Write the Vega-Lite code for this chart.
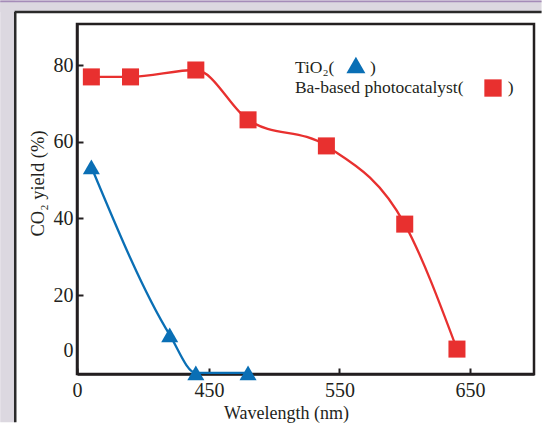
{
  "$schema": "https://vega.github.io/schema/vega-lite/v6.json",
  "width": 457,
  "height": 350,
  "autosize": {"type": "none"},
  "padding": {"left": 77, "top": 24, "right": 9, "bottom": 51},
  "background": "white",
  "config": {
    "view": {"stroke": "#231f20", "strokeWidth": 2.5},
    "text": {"font": "Liberation Serif", "color": "#231f20"}
  },
  "datasets": {
    "main": [
      {"series": "Ba", "wavelength": 360, "yield": 76.9},
      {"series": "Ba", "wavelength": 390, "yield": 76.9},
      {"series": "Ba", "wavelength": 440, "yield": 78.7},
      {"series": "Ba", "wavelength": 480, "yield": 65.7},
      {"series": "Ba", "wavelength": 540, "yield": 58.9},
      {"series": "Ba", "wavelength": 600, "yield": 38.5},
      {"series": "Ba", "wavelength": 640, "yield": 5.9},
      {"series": "TiO2", "wavelength": 360, "yield": 53.4},
      {"series": "TiO2", "wavelength": 420, "yield": 9.6},
      {"series": "TiO2", "wavelength": 440, "yield": -0.3},
      {"series": "TiO2", "wavelength": 480, "yield": -0.3}
    ],
    "one": [{"k": 1}]
  },
  "layer": [
    {
      "data": {"name": "one"},
      "mark": {"type": "rect", "fill": "#dcd8e0"},
      "encoding": {"x": {"datum": 290.2, "type": "quantitative"}, "x2": {"datum": 301.7}, "y": {"datum": -13.2, "type": "quantitative"}, "y2": {"datum": 96.8}}
    },
    {
      "data": {"name": "one"},
      "mark": {"type": "rect", "fill": "#dcd8e0"},
      "encoding": {"x": {"datum": 290.2, "type": "quantitative"}, "x2": {"datum": 704.8}, "y": {"datum": 93.8, "type": "quantitative"}, "y2": {"datum": 96.8}}
    },
    {
      "data": {"name": "one"},
      "mark": {"type": "rect", "fill": "#a58cb8"},
      "encoding": {"x": {"datum": 290.2, "type": "quantitative"}, "x2": {"datum": 704.8}, "y": {"datum": 96.4, "type": "quantitative"}, "y2": {"datum": 96.8}}
    },
    {
      "data": {"name": "one"},
      "mark": {"type": "rule", "stroke": "#2a2a2a", "strokeWidth": 2.5},
      "encoding": {"x": {"datum": 301.7, "type": "quantitative"}, "y": {"datum": -13.2, "type": "quantitative"}, "y2": {"datum": 93.8}}
    },
    {
      "data": {"name": "one"},
      "mark": {"type": "rule", "stroke": "#2a2a2a", "strokeWidth": 2.5},
      "encoding": {"x": {"datum": 301.2, "type": "quantitative"}, "x2": {"datum": 704.8}, "y": {"datum": 93.8, "type": "quantitative"}}
    },
    {
      "data": {"name": "main"},
      "mark": {"type": "line", "interpolate": "monotone", "strokeWidth": 2.3},
      "encoding": {
        "x": {
          "field": "wavelength", "type": "quantitative",
          "scale": {"domain": [349, 699], "nice": false, "zero": false},
          "axis": {
            "values": [349, 450, 550, 650],
            "labelExpr": "datum.value < 400 ? '0' : datum.label",
            "tickSize": -6, "tickWidth": 2, "tickColor": "#231f20",
            "domainColor": "#231f20", "domainWidth": 2.5,
            "labelFont": "Liberation Serif", "labelFontSize": 20, "labelColor": "#231f20",
            "labelPadding": 12, "labelFlush": false, "labelOverlap": false,
            "grid": false,
            "title": "Wavelength (nm)",
            "titleFont": "Liberation Serif", "titleFontSize": 18, "titleFontWeight": "normal", "titleColor": "#231f20",
            "titleX": 209, "titleY": 44, "titleBaseline": "alphabetic", "titleAlign": "center"
          }
        },
        "y": {
          "field": "yield", "type": "quantitative",
          "scale": {"domain": [-0.6, 90.7], "nice": false, "zero": false},
          "axis": {
            "values": [5.65, 20, 40, 60, 80],
            "labelExpr": "datum.value < 10 ? '0' : datum.label",
            "tickSize": -6, "tickWidth": 2, "tickColor": "#231f20",
            "tickOpacity": {"condition": {"test": "datum.value < 10", "value": 0}, "value": 1},
            "domainColor": "#231f20", "domainWidth": 2.5,
            "labelFont": "Liberation Serif", "labelFontSize": 20, "labelColor": "#231f20",
            "labelPadding": 10, "labelFlush": false, "labelOverlap": false,
            "grid": false,
            "title": "CO₂ yield (%)",
            "titleFont": "Liberation Serif", "titleFontSize": 18.5, "titleFontWeight": "normal", "titleColor": "#231f20",
            "titleX": -40, "titleY": 159, "titleBaseline": "middle", "titleAlign": "center"
          }
        },
        "color": {"field": "series", "type": "nominal", "scale": {"domain": ["TiO2", "Ba"], "range": ["#0a6fb5", "#e8302f"]}, "legend": null}
      }
    },
    {
      "data": {"name": "main"},
      "mark": {"type": "point", "filled": true, "opacity": 1},
      "encoding": {
        "x": {"field": "wavelength", "type": "quantitative"},
        "y": {"field": "yield", "type": "quantitative"},
        "color": {"field": "series", "type": "nominal", "scale": {"domain": ["TiO2", "Ba"], "range": ["#0a6fb5", "#e8302f"]}, "legend": null},
        "shape": {"field": "series", "type": "nominal", "scale": {"domain": ["TiO2", "Ba"], "range": ["triangle-up", "square"]}, "legend": null},
        "size": {"value": 290}
      }
    },
    {
      "data": {"name": "one"},
      "mark": {"type": "text", "align": "left", "baseline": "alphabetic", "fontSize": 17.5, "text": "TiO₂("},
      "encoding": {"x": {"datum": 515.9, "type": "quantitative"}, "y": {"datum": 77.9, "type": "quantitative"}}
    },
    {
      "data": {"name": "one"},
      "mark": {"type": "text", "align": "left", "baseline": "alphabetic", "fontSize": 17.5, "text": ")"},
      "encoding": {"x": {"datum": 573.4, "type": "quantitative"}, "y": {"datum": 77.9, "type": "quantitative"}}
    },
    {
      "data": {"name": "one"},
      "mark": {"type": "text", "align": "left", "baseline": "alphabetic", "fontSize": 17.5, "text": "Ba-based photocatalyst("},
      "encoding": {"x": {"datum": 515.9, "type": "quantitative"}, "y": {"datum": 72.7, "type": "quantitative"}}
    },
    {
      "data": {"name": "one"},
      "mark": {"type": "text", "align": "left", "baseline": "alphabetic", "fontSize": 17.5, "text": ")"},
      "encoding": {"x": {"datum": 678.9, "type": "quantitative"}, "y": {"datum": 72.7, "type": "quantitative"}}
    },
    {
      "data": {"name": "one"},
      "mark": {"type": "point", "shape": "triangle-up", "filled": true, "opacity": 1, "color": "#0a6fb5", "size": 360},
      "encoding": {"x": {"datum": 562.6, "type": "quantitative"}, "y": {"datum": 80, "type": "quantitative"}}
    },
    {
      "data": {"name": "one"},
      "mark": {"type": "point", "shape": "square", "filled": true, "opacity": 1, "color": "#e8302f", "size": 300},
      "encoding": {"x": {"datum": 667.6, "type": "quantitative"}, "y": {"datum": 74, "type": "quantitative"}}
    }
  ]
}
